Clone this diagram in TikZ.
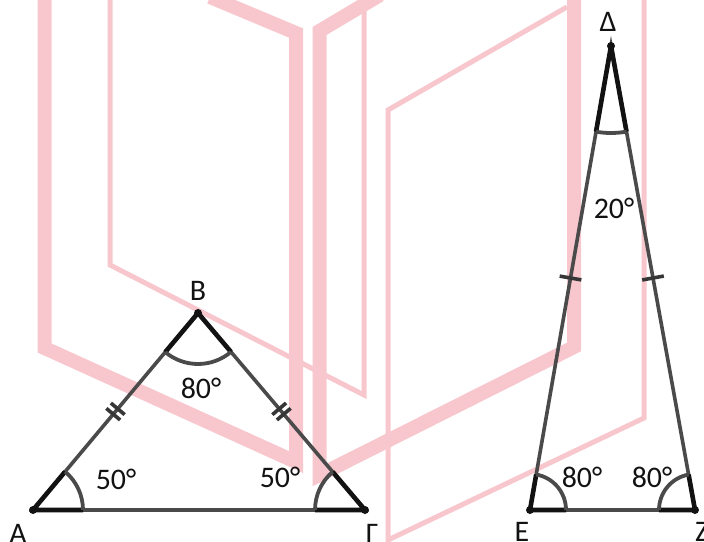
\documentclass[tikz,border=0pt]{standalone}
\usepackage{fontspec}
\setmainfont{Carlito}
\usepackage{tikz}
\usetikzlibrary{calc,angles}
\definecolor{wmpink}{RGB}{247,199,205}
\definecolor{sidegray}{RGB}{74,74,74}
\definecolor{ink}{RGB}{18,18,18}

\begin{document}
\begin{tikzpicture}[x=1bp,y=-1bp,
  lbl/.style={font=\fontsize{30}{33}\selectfont,text=ink,inner sep=0pt},
  wmthick/.style={wmpink,line width=14bp},
  wmthin/.style={wmpink,line width=5bp},
  edge/.style={sidegray,line width=3.6bp},
  wedge/.style={ink,line width=4.6bp,line join=round},
  angarc/.style={draw=sidegray,line width=3.8bp},
  tickmark/.style={ink!85,line width=3.6bp},
  vdot/.style={ink}]
\useasboundingbox (0,0) rectangle (704,542);
\begin{scope}
\clip (0,0) rectangle (704,542);
\draw[wmthick] (44.5,-10) -- (44.5,348) -- (296,462) -- (296,33) -- (210,-3);
\draw[wmthick] (380,-5) -- (319.5,31) -- (319.5,475) -- (574,347) -- (574,-10);
\draw[wmthin] (110,-10) -- (110,265) -- (364,395) -- (364,5);
\draw[wmthin] (567,7) -- (388,110) -- (388,550);
\draw[wmthin] (388,540) -- (644,418) -- (644,-10);
\end{scope}

\coordinate (A) at (33,510);
\coordinate (B) at (198,313);
\coordinate (G) at (365,510);
\coordinate (D) at (611,46);
\coordinate (E) at (530,510);
\coordinate (Z) at (695,510);

\draw[edge] (A) -- (B) -- (G) -- cycle;
\draw[edge] (D) -- (E) -- (Z) -- cycle;

\foreach \p/\v/\q/\r in {G/A/B/50,A/B/G/51,B/G/A/50,E/D/Z/87,Z/E/D/36,D/Z/E/36}{
  \draw[wedge] ($(\v)!\r bp!(\p)$) -- (\v) -- ($(\v)!\r bp!(\q)$);
  \pic[angarc,angle radius=\r bp] {angle=\p--\v--\q};
}

\foreach \p/\q in {A/B,G/B}
  \foreach \s in {-3.5,3.5}{
    \coordinate (m) at ($(\p)!0.5!(\q)!\s bp!(\q)$);
    \draw[tickmark] ($(m)!9bp!90:(\q)$) -- ($(m)!9bp!-90:(\q)$);
  }
\foreach \p in {E,Z}{
  \coordinate (m) at ($(D)!0.5!(\p)$);
  \draw[tickmark] ($(m)!11bp!90:(\p)$) -- ($(m)!11bp!-90:(\p)$);
}

\foreach \v in {A,B,G,D,E,Z}
  \fill[vdot] (\v) circle (4bp);

\node[lbl] (lA) at (18,534) {Α};
\node[lbl] (lB) at (198,291) {Β};
\node[lbl] (lG) at (372,534) {Γ};
\node[lbl] (lD) at (608,22) {Δ};
\node[lbl] (lE) at (522,532) {Ε};
\node[lbl] (lZ) at (702,532) {Ζ};

\node[lbl] (aA) at (116,479) {50°};
\node[lbl] (aB) at (201,388) {80°};
\node[lbl] (aG) at (280,477) {50°};
\node[lbl] (aD) at (614,208) {20°};
\node[lbl] (aE) at (582,477) {80°};
\node[lbl] (aZ) at (652,477) {80°};
\end{tikzpicture}
\end{document}
